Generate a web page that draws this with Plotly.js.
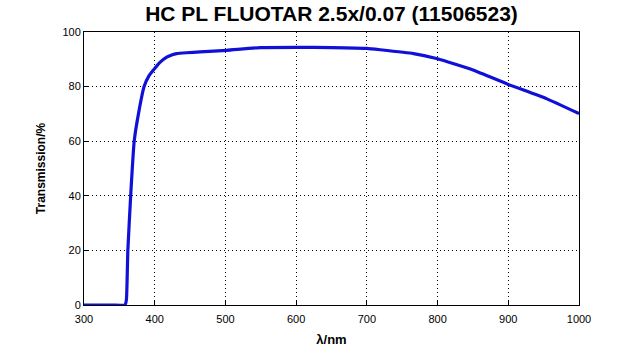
<!DOCTYPE html>
<html>
<head>
<meta charset="utf-8">
<script src="https://cdn.plot.ly/plotly-3.0.1.min.js"></script>
<style>html,body{margin:0;padding:0;background:#fff;}#chart{width:640px;height:350px;}</style>
</head>
<body>
<div id="chart"></div>
<script>
const wavelength = [300, 340, 358, 360, 362, 366, 371, 377, 385, 392, 398, 407, 417, 425, 431, 445, 464, 502, 549, 600, 650, 700, 719, 766, 800, 851, 900, 954, 1000];
const transmission = [0, 0, 0, 2, 20, 40, 60, 70, 80, 84, 86, 88.8, 90.8, 91.7, 92.1, 92.4, 92.7, 93.3, 94.3, 94.4, 94.3, 94.0, 93.5, 92.1, 90.2, 86, 80.8, 75.6, 70.1];
const xTicks = [300, 400, 500, 600, 700, 800, 900, 1000];
const yTicks = [0, 20, 40, 60, 80, 100];
const chartTitle = 'HC PL FLUOTAR 2.5x/0.07 (11506523)';

const trace = {
  x: wavelength, y: transmission, type: 'scatter', mode: 'lines',
  line: {color: '#1010d8', width: 3.2, shape: 'spline', smoothing: 0.4},
  hoverinfo: 'skip'
};
const fontFam = 'Liberation Sans, Arial, sans-serif';
const axisCommon = {
  showline: true, mirror: true, linecolor: '#000', linewidth: 1,
  ticks: 'inside', ticklen: 4, tickcolor: '#000',
  showgrid: true, gridcolor: '#000', griddash: '1px,3px', gridwidth: 1,
  zeroline: false,
  tickfont: {family: fontFam, size: 11, color: '#000'}
};
const layout = {
  width: 640, height: 350,
  margin: {l: 84, r: 61, t: 32, b: 45},
  paper_bgcolor: '#fff', plot_bgcolor: '#fff',
  showlegend: false,
  title: {text: chartTitle, x: 0.518, xanchor: 'center', yref: 'container', y: 0.982, yanchor: 'top',
          font: {family: fontFam, size: 21, color: '#000', weight: 'bold'}},
  xaxis: Object.assign({}, axisCommon, {
    range: [300, 1000], tickvals: xTicks, ticktext: xTicks.map(String), ticklabelstandoff: 4,
    title: {text: 'λ/nm', standoff: 10, font: {family: fontFam, size: 13, color: '#000', weight: 'bold'}}
  }),
  yaxis: Object.assign({}, axisCommon, {
    range: [0, 100], tickvals: yTicks, ticktext: yTicks.map(String),
    title: {text: 'Transmission/%', standoff: 14, font: {family: fontFam, size: 12, color: '#000', weight: 'bold'}}
  })
};
Plotly.newPlot('chart', [trace], layout, {displayModeBar: false, staticPlot: true});
</script>
</body>
</html>
